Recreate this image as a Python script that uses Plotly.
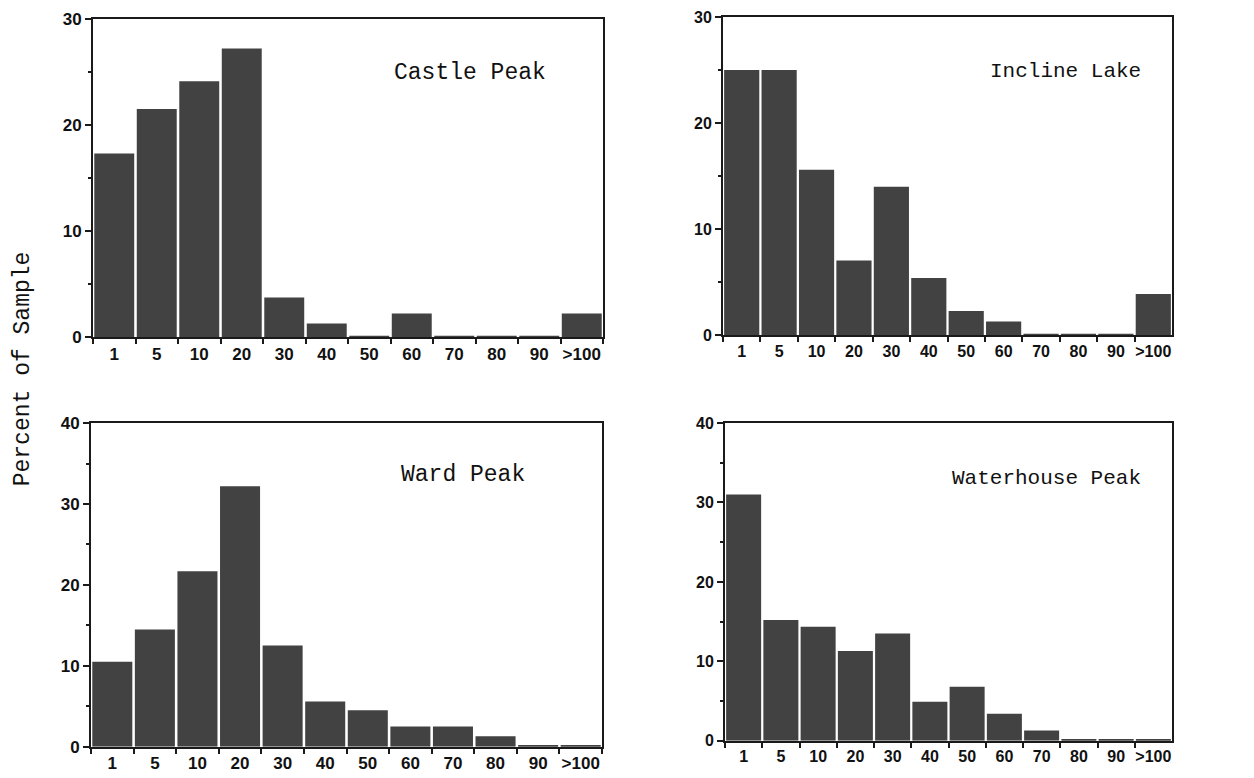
import plotly.graph_objects as go

categories = ["1", "5", "10", "20", "30", "40", "50", "60", "70", "80", "90", ">100"]

castle_peak = [17.3, 21.5, 24.1, 27.2, 3.75, 1.3, 0.1, 2.25, 0.1, 0.1, 0.1, 2.25]
incline_lake = [25.0, 25.0, 15.6, 7.05, 14.0, 5.4, 2.3, 1.3, 0.15, 0.15, 0.15, 3.9]
ward_peak = [10.5, 14.5, 21.7, 32.2, 12.5, 5.6, 4.5, 2.5, 2.5, 1.3, 0.1, 0.1]
waterhouse_peak = [31.0, 15.2, 14.35, 11.3, 13.5, 4.9, 6.8, 3.4, 1.3, 0.15, 0.15, 0.15]


def px(x):
    return (x - 5) / 1254.0


def py(y):
    return 1 - (y - 15.3) / 0.9795 / 778.0


# name, values, y max, x axis, y axis, box (left, top, right, bottom px), label (right px, centre y px, size), tick size
panels = [
    ("Castle Peak", castle_peak, 30, "x", "y", (90, 17, 600, 337), (545, 72, 23), 17),
    ("Incline Lake", incline_lake, 30, "x2", "y2", (720, 15, 1169, 335), (1140, 70, 21), 16),
    ("Ward Peak", ward_peak, 40, "x3", "y3", (88, 423, 599, 748), (524, 475, 23), 17),
    ("Waterhouse Peak", waterhouse_peak, 40, "x4", "y4", (722, 423, 1169, 742), (1140, 479, 21), 16),
]

BAR = "#424242"
AX = "#1a1a1a"

fig = go.Figure()
layout = dict(
    width=1254, height=778,
    margin=dict(l=0, r=0, t=0, b=0),
    paper_bgcolor="white", plot_bgcolor="white",
    showlegend=False, bargap=0.06,
)

annotations = []
for name, vals, ymax, xa, ya, box, lab, tsize in panels:
    fig.add_trace(go.Bar(x=categories, y=vals, marker=dict(color=BAR, line=dict(width=0)),
                         xaxis=xa, yaxis=ya, name=name))
    xk = "xaxis" + xa[1:]
    yk = "yaxis" + ya[1:]
    l, t, r, b = box
    tickfont = dict(family="Liberation Sans, Arial", size=tsize, color="#111111", weight="bold")
    layout[xk] = dict(
        domain=[px(l), px(r)], anchor=ya, type="category", range=[-0.5, 11.5],
        showline=True, linecolor=AX, linewidth=2, mirror=True,
        ticks="outside", tickson="boundaries", ticklen=5, tickcolor=AX, tickwidth=2,
        tickangle=0, showgrid=False, zeroline=False, tickfont=tickfont,
    )
    layout[yk] = dict(
        domain=[py(b), min(1.0, py(t))], anchor=xa, range=[0, ymax],
        tickvals=list(range(0, ymax + 1, 10)),
        showline=True, linecolor=AX, linewidth=2, mirror=True,
        ticks="outside", ticklen=6, tickcolor=AX, tickwidth=2,
        minor=dict(dtick=5, ticks="outside", ticklen=3, tickcolor=AX),
        showgrid=False, zeroline=False, tickfont=tickfont,
    )
    rx, cy, fs = lab
    annotations.append(dict(
        text=name, xref="paper", yref="paper", x=px(rx), y=py(cy),
        xanchor="right", yanchor="middle", showarrow=False,
        font=dict(family="Liberation Mono, Courier New, monospace", size=fs, color="#111111"),
    ))

annotations.append(dict(
    text="Percent of Sample", xref="paper", yref="paper", x=px(20), y=py(369),
    textangle=-90, showarrow=False, xanchor="center", yanchor="middle",
    font=dict(family="Liberation Mono, Courier New, monospace", size=23, color="#111111"),
))

fig.update_layout(**layout)
fig.update_layout(annotations=annotations)

fig.write_html("out.html")
